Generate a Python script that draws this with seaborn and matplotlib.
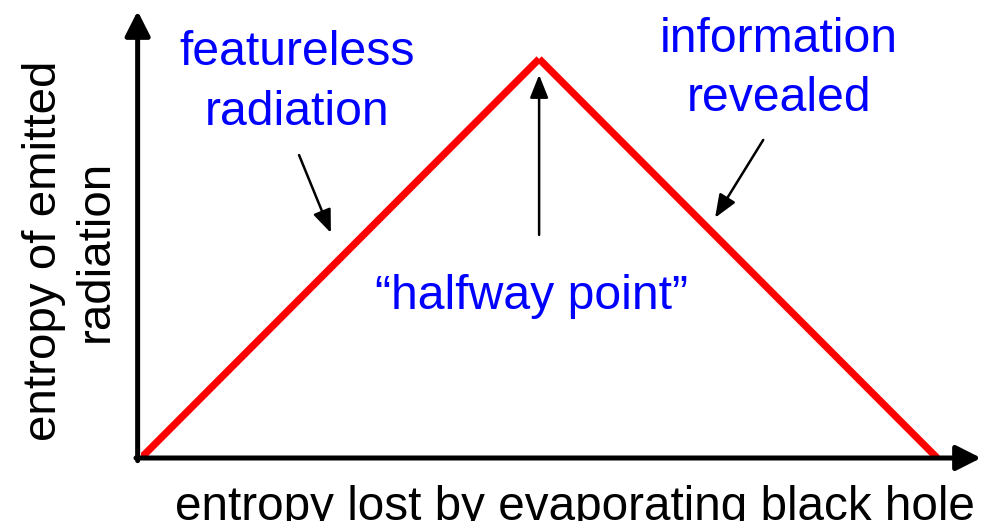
import matplotlib
matplotlib.use("Agg")
import matplotlib.pyplot as plt
import seaborn as sns
import pandas as pd

sns.set_theme(style="white")
plt.rcParams["font.family"] = ["Liberation Sans", "DejaVu Sans"]

# Page-curve sketch: entropy of radiation rises, peaks, then falls back to zero
entropy_lost = [0.0, 1.0, 1.0, 2.0]
entropy_radiation = [0.0, 1.0, 1.0, 0.0]
segment = ["rise", "rise", "fall", "fall"]

x_label = "entropy lost by evaporating black hole"
y_label = "entropy of emitted\nradiation"
note_left = "featureless\nradiation"
note_right = "information\nrevealed"
note_mid = "\u201chalfway point\u201d"

df = pd.DataFrame({"lost": entropy_lost, "emitted": entropy_radiation, "segment": segment})

fig = plt.figure(figsize=(9.81, 5.21), dpi=100)
ax = fig.add_axes([141 / 981, 63 / 521, 840 / 981, 447 / 521])

sns.lineplot(data=df, x="lost", y="emitted", units="segment", estimator=None,
             color="#ff0000", linewidth=5.2, ax=ax, legend=False,
             solid_capstyle="butt")

ax.set_xlim(0, 2.11)
ax.set_ylim(0, 1.12)
ax.set_xticks([])
ax.set_yticks([])
ax.set_xlabel("")
ax.set_ylabel("")
for s in ax.spines.values():
    s.set_visible(False)
ax.patch.set_alpha(0)

# axis arrows
axis_arrow = dict(arrowstyle="-|>,head_length=0.75,head_width=0.38", mutation_scale=20,
                  lw=3.6, color="black", shrinkA=0, shrinkB=0)
ax.annotate("", xy=(1.0, 0.0), xytext=(-0.006, 0.0), xycoords="axes fraction",
            arrowprops=axis_arrow, annotation_clip=False)
ax.annotate("", xy=(-0.004, 1.0), xytext=(-0.004, -0.006), xycoords="axes fraction",
            arrowprops=axis_arrow, annotation_clip=False)

# pointer arrows
pointer = dict(arrowstyle="-|>,head_length=0.7,head_width=0.28", mutation_scale=20,
               lw=1.8, color="black", shrinkA=0, shrinkB=0)
ax.annotate("", xy=(0.477, 0.564), xytext=(0.397, 0.759), arrowprops=pointer)
ax.annotate("", xy=(1.442, 0.602), xytext=(1.563, 0.797), arrowprops=pointer)
ax.annotate("", xy=(1.0, 0.96), xytext=(1.0, 0.559), arrowprops=pointer)

fs = 34.7
blue = "#0000ff"
ax.text(0.392, 0.940, note_left, color=blue, fontsize=fs, ha="center", va="center",
        linespacing=1.42)
ax.text(1.603, 0.975, note_right, color=blue, fontsize=fs, ha="center", va="center",
        linespacing=1.42)
ax.text(0.982, 0.405, note_mid, color=blue, fontsize=fs, ha="center", va="center")

fig.text(575 / 981, 1 / 521, x_label, fontsize=34.3, ha="center", va="baseline", color="black")
fig.text(70 / 981, 1 - 251 / 521, y_label, fontsize=34.2, ha="center", va="center",
         rotation=90, color="black", linespacing=1.22)

fig.savefig("out.png", dpi=100)
